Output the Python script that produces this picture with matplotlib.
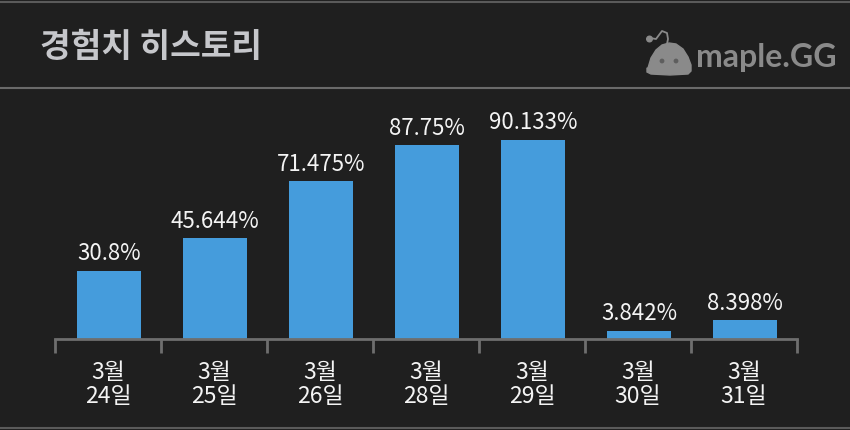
import matplotlib
matplotlib.use("Agg")
import matplotlib.pyplot as plt
from matplotlib.patches import Circle
from matplotlib.lines import Line2D
import numpy as np

plt.rcParams['font.family'] = ['Noto Sans CJK KR', 'DejaVu Sans']

months = ["3월"] * 7
days = ["24일", "25일", "26일", "28일", "29일", "30일", "31일"]
values = [30.8, 45.644, 71.475, 87.75, 90.133, 3.842, 8.398]
value_labels = ["30.8%", "45.644%", "71.475%", "87.75%", "90.133%", "3.842%", "8.398%"]
title = "경험치 히스토리"
logo_text = "maple.GG"

BG = "#1f1f1f"
BAR = "#459cdc"
GRID = "#6e6e6e"
LOGO = "#8a8a8a"

W, H = 850, 430
fig = plt.figure(figsize=(W / 100, H / 100), dpi=100, facecolor=BG)

# frame lines
fig.add_artist(Line2D([0, 1], [1 - 1.5 / H, 1 - 1.5 / H], color="#5a5a5a", lw=1.5))
fig.add_artist(Line2D([0, 1], [2 / H, 2 / H], color="#5a5a5a", lw=1.5))
fig.add_artist(Line2D([0, 1], [1 - 88 / H, 1 - 88 / H], color="#6a6a6a", lw=1.5))

# title
fig.text(40 / W, 1 - 47 / H, title, color="#c6c7cb", fontsize=24, fontweight="bold",
         ha="left", va="center")

# logo
fig.text(696 / W, 1 - 58 / H, logo_text, color=LOGO, fontsize=23, fontweight="bold",
         ha="left", va="center", family=["Lato", "DejaVu Sans"])
lax = fig.add_axes([640 / W, 1 - 80 / H, 60 / W, 50 / H])
lax.set_xlim(0, 60)
lax.set_ylim(50, 0)
lax.axis("off")
blob_x = [8, 11, 16, 22, 29, 36, 43, 48, 51, 51, 48, 30, 11, 7, 7]
blob_y = [38, 28, 20, 15, 13, 14, 19, 27, 35, 41, 44, 45, 44, 42, 38]
lax.fill(blob_x, blob_y, color=LOGO)
lax.add_patch(Circle((9.5, 9), 2.8, color=LOGO))
lax.plot([10, 16, 22, 27, 28, 27], [8, 9, 1, 3, 9, 14], color=LOGO, lw=1.3)
lax.add_patch(Circle((22, 31), 1.7, color="#5e5e5e"))
lax.add_patch(Circle((36, 31), 1.7, color="#5e5e5e"))

# chart
ax = fig.add_axes([55 / W, 1 - 339 / H, 742 / W, 243 / H])
ax.set_facecolor(BG)
x = np.arange(len(values))
bars = ax.bar(x + 0.01, values, width=0.61, color=BAR, zorder=2)
ax.bar_label(bars, labels=value_labels, padding=4, color="#f4f4f4", fontsize=16)

ax.set_xlim(-0.5, len(values) - 0.5)
ax.set_ylim(0, 110)
for s in ["top", "right", "left"]:
    ax.spines[s].set_visible(False)
ax.spines["bottom"].set_color(GRID)
ax.spines["bottom"].set_linewidth(2)
ax.set_yticks([])
ax.set_xticks(x)
ax.set_xticklabels([f"{m}\n{d}" for m, d in zip(months, days)], color="#f4f4f4",
                   fontsize=16.5, linespacing=1.05)
ax.tick_params(axis="x", which="major", length=0, pad=16)
ax.set_xticks(np.arange(-0.5, len(values)), minor=True)
ax.tick_params(axis="x", which="minor", length=10, width=2, color=GRID)

fig.savefig("out.png", dpi=100, facecolor=BG)
